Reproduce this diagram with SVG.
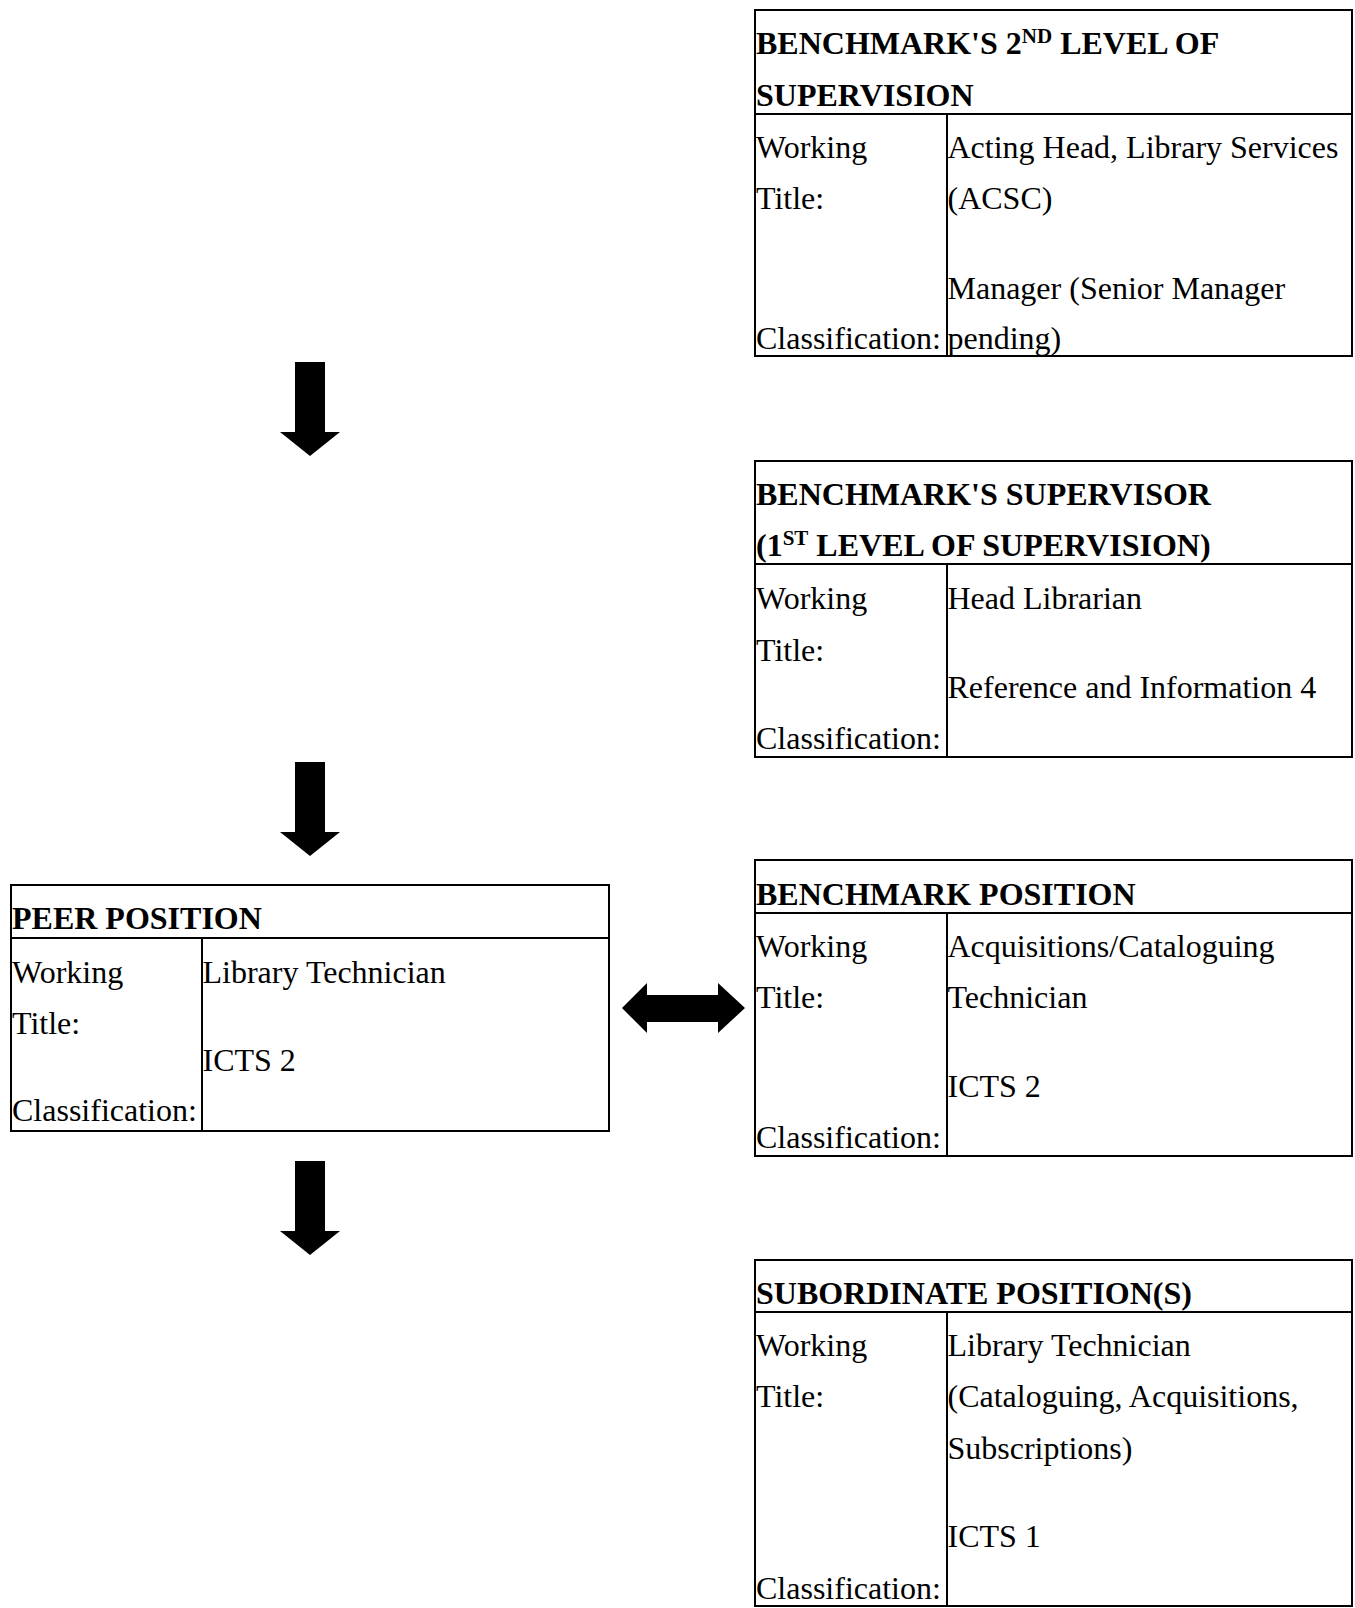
<svg xmlns="http://www.w3.org/2000/svg" width="1355" height="1608" viewBox="0 0 1355 1608">
<style>
.box{fill:#fff;stroke:#000;stroke-width:2}
.ln{stroke:#000;stroke-width:2}
text{font-family:"Liberation Serif","Times New Roman",serif;font-size:32px;fill:#000}
.h{font-weight:bold}
.sup{font-size:21px}
.arr{fill:#000}
</style>
<defs>
<polygon id="down" points="295,0 325,0 325,70 340,70 310,94 280,70 295,70"/>
</defs>
<rect width="1355" height="1608" fill="#fff"/>
<g id="connectors">
<use href="#down" class="arr" y="362"/>
<use href="#down" class="arr" y="762"/>
<use href="#down" class="arr" y="1161"/>
<polygon class="arr" points="622,1008 647,983 647,995 718,995 718,983 745,1008 718,1033 718,1022 647,1022 647,1033"/>
</g>
<g id="node-2nd-level">
<rect class="box" x="755" y="10" width="597" height="346"/>
<line class="ln" x1="755" y1="114" x2="1352" y2="114"/>
<line class="ln" x1="947" y1="114" x2="947" y2="356"/>
<text class="h" x="756" y="54">BENCHMARK'S 2<tspan class="sup" dy="-11">ND</tspan><tspan dy="11"> LEVEL OF</tspan></text>
<text class="h" x="756" y="106">SUPERVISION</text>
<text x="756" y="158">Working</text>
<text x="756" y="209">Title:</text>
<text x="756" y="349">Classification:</text>
<text x="947.5" y="158">Acting Head, Library Services</text>
<text x="947.5" y="209">(ACSC)</text>
<text x="947.5" y="299">Manager (Senior Manager</text>
<text x="947.5" y="349">pending)</text>
</g>
<g id="node-supervisor">
<rect class="box" x="755" y="461" width="597" height="296"/>
<line class="ln" x1="755" y1="564" x2="1352" y2="564"/>
<line class="ln" x1="947" y1="564" x2="947" y2="757"/>
<text class="h" x="756" y="505">BENCHMARK'S SUPERVISOR</text>
<text class="h" x="756" y="556">(1<tspan class="sup" dy="-11">ST</tspan><tspan dy="11"> LEVEL OF SUPERVISION)</tspan></text>
<text x="756" y="609">Working</text>
<text x="756" y="661">Title:</text>
<text x="756" y="749">Classification:</text>
<text x="947.5" y="609">Head Librarian</text>
<text x="947.5" y="698">Reference and Information 4</text>
</g>
<g id="node-peer">
<rect class="box" x="11" y="885" width="598" height="246"/>
<line class="ln" x1="11" y1="938" x2="609" y2="938"/>
<line class="ln" x1="202" y1="938" x2="202" y2="1131"/>
<text class="h" x="12" y="929">PEER POSITION</text>
<text x="12" y="983">Working</text>
<text x="12" y="1034">Title:</text>
<text x="12" y="1121">Classification:</text>
<text x="202.5" y="983">Library Technician</text>
<text x="202.5" y="1071">ICTS 2</text>
</g>
<g id="node-benchmark">
<rect class="box" x="755" y="860" width="597" height="296"/>
<line class="ln" x1="755" y1="913" x2="1352" y2="913"/>
<line class="ln" x1="947" y1="913" x2="947" y2="1156"/>
<text class="h" x="756" y="905">BENCHMARK POSITION</text>
<text x="756" y="957">Working</text>
<text x="756" y="1008">Title:</text>
<text x="756" y="1148">Classification:</text>
<text x="947.5" y="957">Acquisitions/Cataloguing</text>
<text x="947.5" y="1008">Technician</text>
<text x="947.5" y="1097">ICTS 2</text>
</g>
<g id="node-subordinate">
<rect class="box" x="755" y="1260" width="597" height="346"/>
<line class="ln" x1="755" y1="1312" x2="1352" y2="1312"/>
<line class="ln" x1="947" y1="1312" x2="947" y2="1606"/>
<text class="h" x="756" y="1304">SUBORDINATE POSITION(S)</text>
<text x="756" y="1356">Working</text>
<text x="756" y="1407">Title:</text>
<text x="756" y="1599">Classification:</text>
<text x="947.5" y="1356">Library Technician</text>
<text x="947.5" y="1407">(Cataloguing, Acquisitions,</text>
<text x="947.5" y="1459">Subscriptions)</text>
<text x="947.5" y="1547">ICTS 1</text>
</g>
</svg>
